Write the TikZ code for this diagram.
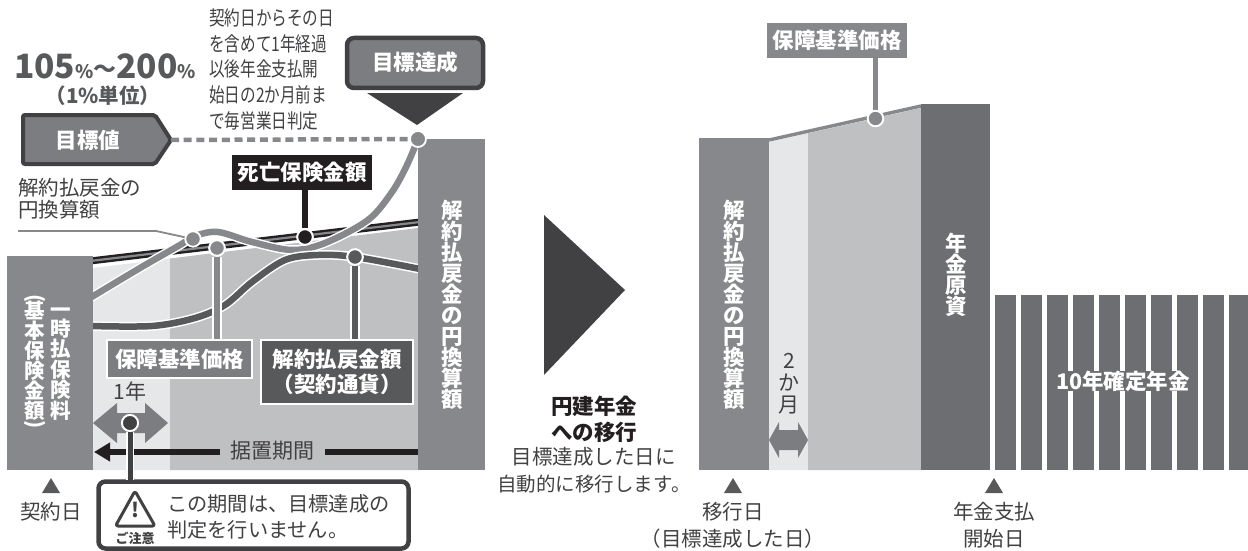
\documentclass[tikz,border=0pt]{standalone}
\usepackage{fontspec}
\setmainfont{Noto Sans CJK JP}
\usetikzlibrary{arrows.meta,calc}
\definecolor{barg}{HTML}{87888B}
\definecolor{boxg}{HTML}{7C7D80}
\definecolor{dk}{HTML}{414042}
\definecolor{midd}{HTML}{58595B}
\definecolor{pil}{HTML}{6D6E71}
\definecolor{lite}{HTML}{E6E7E8}
\definecolor{fillg}{HTML}{BFC0C2}
\definecolor{ink}{HTML}{231F20}
\newcommand{\fs}[1]{\fontsize{#1}{#1}\selectfont}
\newcommand{\fsp}[2]{\fontsize{#1}{#2}\selectfont}
\newcommand{\cnd}[1]{\scalebox{.78}[1]{#1}}
\tikzset{
  txt/.style={text=dk,inner sep=0,align=center,font=\fs{20.5}},
  wbold/.style={text=white,inner sep=0,align=center,font=\fs{21.5}\bfseries},
  vbold/.style={text=white,inner sep=0,align=center,font=\fsp{21.5}{21}\bfseries},
  dotn/.style={circle,draw=white,line width=1.8pt,inner sep=0,minimum size=15.5pt},
  tri/.style={fill=midd,draw=none},
  casing/.style={draw=white,line width=#1,line cap=butt},
  labelbox/.style={draw=white,line width=2pt,inner sep=0,text=white,align=center,font=\fs{21.5}\bfseries},
  framed/.style={draw=dk,line width=4.5pt,fill=boxg,rounded corners=7pt},
}
\begin{document}
\begin{tikzpicture}[x=1pt,y=-1pt]
\useasboundingbox (0,0) rectangle (1248,551);
% ---------- left chart fills
\fill[lite] (93,268) -- (170,258.5) -- (170,470) -- (93,470) -- cycle;
\fill[fillg] (170,258.5) -- (418,228) -- (418,470) -- (170,470) -- cycle;
% death benefit line
\draw[ink,line width=7pt] (90,261) -- (420,222);
\draw[barg,line width=2.2pt] (90,261) -- (420,222);
% gray curve + dark curve
\def\graycurve{plot[smooth,tension=.55] coordinates {(90,298) (140,268) (180,245) (195,236) (218,232) (252,242) (292,250) (325,243) (368,220) (392,192) (407,165) (418,139)}}
\def\darkcurve{plot[smooth,tension=.55] coordinates {(90,326) (152,326) (195,318) (225,305) (252,282) (285,260) (318,255) (355,257) (420,269)}}
\draw[white,line width=9.5pt] \graycurve;
\draw[barg,line width=6.5pt] \graycurve;
\draw[white,line width=9.5pt] \darkcurve;
\draw[midd,line width=6.5pt] \darkcurve;
% bars
\fill[barg] (7,256) rectangle (93,470);
\fill[barg] (418,139) rectangle (485,470);
\node[vbold,font=\fsp{20.5}{19.2}\bfseries] at (61,364) {一\\時\\払\\保\\険\\料};
\node[vbold,font=\fsp{20.5}{20}\bfseries] at (35,363) {\rotatebox[origin=c]{-90}{(}\\[-7pt]基\\本\\保\\険\\金\\額\\[-7pt]\rotatebox[origin=c]{-90}{)}};
\node[vbold] at (452,305) {解\\約\\払\\戻\\金\\の\\円\\換\\算\\額};
% label boxes and dots
\node[fill=ink,text=white,inner sep=0,minimum width=140pt,minimum height=35pt,font=\fs{21.5}\bfseries] (death) at (302,172.5) {死亡保険金額};
\node[labelbox,fill=boxg,minimum width=145pt,minimum height=38pt] (hosho) at (179.5,359) {保障基準価格};
\node[labelbox,fill=midd,minimum width=152pt,minimum height=64pt] (kaiyaku) at (337,372) {解約払戻金額\\[3pt]（契約通貨）};
\node[dotn,fill=barg] (dgray) at (193,239) {};
\node[dotn,fill=barg] (dhosho) at (217,248) {};
\node[dotn,fill=ink] (ddeath) at (305,237) {};
\node[dotn,fill=midd] (dkai) at (355,257) {};
\node[dotn,fill=barg,minimum size=16pt] (dgoal) at (418,139) {};
\draw[ink,line width=5.5pt] (death.south -| ddeath) -- (ddeath);
\draw[casing=9.5pt] (hosho.north -| dhosho) -- (dhosho);
\draw[barg,line width=6.5pt] (hosho.north -| dhosho) -- (dhosho);
\draw[casing=9.5pt] (kaiyaku.north -| dkai) -- (dkai);
\draw[midd,line width=6.5pt] (kaiyaku.north -| dkai) -- (dkai);
\node[dotn,fill=barg] at (dhosho) {};
\node[dotn,fill=midd] at (dkai) {};
\node[dotn,fill=ink] at (ddeath) {};
% leader of 円換算額
\node[txt,align=left,anchor=north west] (enkan) at (18,178) {解約払戻金の\\[2pt]円換算額};
\coordinate (enkanL) at (18,231);
\draw[barg,line width=1.8pt] (enkanL) -- (156,231) -- (dgray);
% goal value
\coordinate (gtip) at (171,140);
\draw[framed,rounded corners=2pt,fill=boxg,line width=4pt] (23,115) -- (155,115) -- (gtip) -- (155,164) -- (23,164) -- cycle;
\node[wbold] (goalv) at (88,140) {目標値};
\draw[barg,line width=4.5pt,dash pattern=on 8pt off 4.7pt] (gtip) -- (dgoal);
% target reached
\draw[framed] (347,38) rectangle (483,88);
\node[wbold] (goalr) at (415,62) {目標達成};
\fill[dk] (367,93) -- (463,93) -- (417,125) -- cycle;
% headline
\node[inner sep=0,text=midd,font=\fs{33.5}\bfseries] (pct) at (105,66) {105{\fs{18.5}\%}{\fs{23}\raisebox{.5pt}{～}}200{\fs{18.5}\%}};
\node[inner sep=0,text=midd,font=\fs{20.5}\bfseries] (unit) at (103,96) {（1\%単位）};
% condition text
\node[txt,align=left,anchor=north west,font=\fs{20}] (cond) at (209,8.5) {\cnd{契約日からその日}\\[5.7pt]\cnd{を含めて1年経過}\\[5.7pt]\cnd{以後年金支払開}\\[5.7pt]\cnd{始日の2か月前ま}\\[5.7pt]\cnd{で毎営業日判定}};
% 1 year arrow
\node[txt,font=\fs{21}] (oneyr) at (130,391) {1年};
\fill[boxg] (93,423) -- (117,403) -- (117,413) -- (145,413) -- (145,403) -- (168,423) -- (145,443) -- (145,433) -- (117,433) -- (117,443) -- cycle;
% deferred period
\node[txt,font=\fs{21},inner xsep=10pt,inner ysep=2pt] (sue) at (272.5,451) {据置期間};
\coordinate (sueL) at (94,452);
\coordinate (sueR) at (418,452);
\draw[ink,line width=6.5pt,-{Triangle[width=18pt,length=16pt]}] (sue.west |- sueL) -- (sueL);
\draw[ink,line width=6.5pt] (sue.east |- sueR) -- (sueR);
% notice
\draw[dk,line width=4.5pt,fill=white,rounded corners=7pt] (98.5,481.5) rectangle (408.5,548.5);
\coordinate (noticeT) at (130,480);
\node[dotn,fill=dk,minimum size=16pt] (d1y) at (130,423) {};
\draw[casing=8.5pt] (noticeT) -- (d1y);
\draw[dk,line width=5pt] (noticeT) -- (d1y);
\node[dotn,fill=dk,minimum size=16pt] at (d1y) {};
\draw[dk,line width=3pt,line join=round,rounded corners=2.5pt] (135,491) -- (115.5,526) -- (155,526) -- cycle;
\node[inner sep=0,text=dk,font=\fs{20}\bfseries] (bang) at (135,510) {!};
\node[inner sep=0,text=dk,font=\fs{13}\bfseries] (chui) at (135,538) {ご注意};
\node[txt,align=left,anchor=west,font=\fs{20.2}] (n1) at (167,503.5) {この期間は、目標達成の};
\node[txt,align=left,anchor=west,font=\fs{20.2}] (n2) at (167,530) {判定を行いません。};
% start
\fill[tri] (42,493) -- (51,478) -- (60,493) -- cycle;
\node[txt] (start) at (51,512) {契約日};
% ---------- centre
\fill[dk] (544,215) -- (625,290) -- (544,375) -- cycle;
\node[inner sep=0,text=ink,align=center,font=\fs{21.5}\bfseries] (yen) at (594,419.5) {円建年金\\[4pt]への移行};
\node[txt] (m1) at (593.5,457) {目標達成した日に};
\node[txt,font=\fs{19.5}] (m2) at (594,484) {自動的に移行します。};
% ---------- right chart
\fill[lite] (769,142) -- (808,133.3) -- (808,470) -- (769,470) -- cycle;
\fill[fillg] (808,133.3) -- (921,108) -- (921,470) -- (808,470) -- cycle;
\draw[barg,line width=3.4pt] (769,140) -- (921,106);
\fill[barg] (699,138) rectangle (769,470);
\fill[pil] (921,104) rectangle (990,470);
\foreach \i in {0,...,9} {\fill[pil] ({994.5+26*\i},295) rectangle ({994.5+26*\i+21},470);}
\fill[pil] (1056,371) rectangle (1190,391);
\node[wbold] (ten) at (1123,381) {10年確定年金};
\node[vbold] at (734,305) {解\\約\\払\\戻\\金\\の\\円\\換\\算\\額};
\node[vbold] at (956,275) {年\\金\\原\\資};
\node[fill=barg,text=white,inner sep=0,minimum width=140pt,minimum height=35pt,font=\fs{21.5}\bfseries] (hosho2) at (837,40.5) {保障基準価格};
\node[dotn,fill=barg] (dh2) at (875.5,118.5) {};
\draw[barg,line width=5.5pt] (hosho2.south -| dh2) -- (dh2);
\node[dotn,fill=barg] at (dh2) {};
\node[txt,font=\fs{21}] (two) at (789,384) {2\\[1pt]か\\[1pt]月};
\fill[boxg] (769,440) -- (779,422) -- (779,430) -- (798,430) -- (798,422) -- (808,440) -- (798,458) -- (798,450) -- (779,450) -- (779,458) -- cycle;
\fill[tri] (724,493) -- (733,478) -- (742,493) -- cycle;
\fill[tri] (985,493) -- (994,478) -- (1003,493) -- cycle;
\node[txt] (t1) at (733,512) {移行日};
\node[txt] (t2) at (733,539) {（目標達成した日）};
\node[txt] (t3) at (994,512) {年金支払};
\node[txt] (t4) at (994,539) {開始日};
\end{tikzpicture}
\end{document}
